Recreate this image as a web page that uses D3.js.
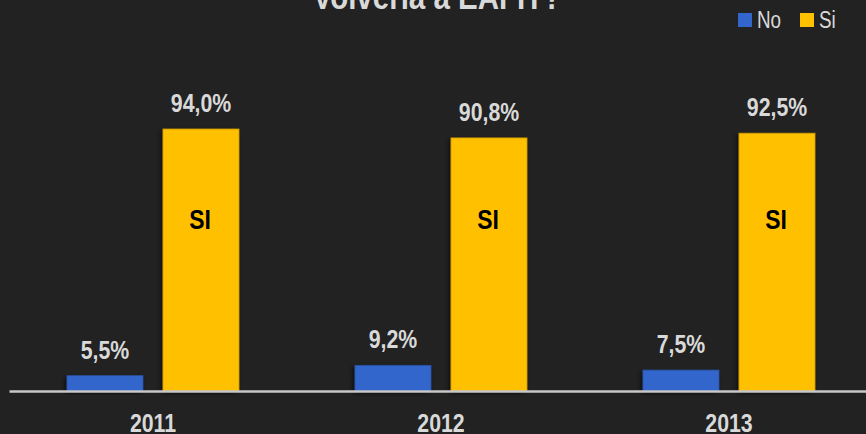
<!DOCTYPE html>
<html>
<head>
<meta charset="utf-8">
<script src="https://cdn.jsdelivr.net/npm/d3@7"></script>
<style>
  body { margin: 0; background: #222222; }
  svg { display: block; }
  text { font-family: "Liberation Sans", Arial, sans-serif; }
</style>
</head>
<body>
<script>
// chart data
const years = ["2011", "2012", "2013"];
const series = ["No", "Si"];
const noValues = [5.5, 9.2, 7.5];
const siValues = [94.0, 90.8, 92.5];
const labelNo = ["5,5%", "9,2%", "7,5%"];
const labelSi = ["94,0%", "90,8%", "92,5%"];
const colors = { No: "#3366cc", Si: "#ffc000" };

const width = 866, height = 434;
const baseY = 391;
const narrow = 0.82; // fake a narrow face by squeezing the text

const svg = d3.select("body")
    .append("svg")
    .attr("width", width)
    .attr("height", height);

svg.append("rect")
    .attr("width", width)
    .attr("height", height)
    .attr("fill", "#222222");

// soft shadow for the bars
const defs = svg.append("defs");
const filt = defs.append("filter").attr("id", "shadow")
    .attr("x", "-20%").attr("y", "-20%").attr("width", "140%").attr("height", "140%");
filt.append("feDropShadow")
    .attr("dx", -2).attr("dy", 2).attr("stdDeviation", 2)
    .attr("flood-color", "#000").attr("flood-opacity", 0.6);

// scales
const x0 = d3.scaleBand()
    .domain(years)
    .range([9, 873]);
const x1 = d3.scaleBand()
    .domain(series)
    .range([0, x0.bandwidth()])
    .paddingInner(0.2083)
    .paddingOuter(0.604);
const y = d3.scaleLinear()
    .domain([0, 100])
    .range([baseY, baseY - 278.7]);

const rows = years.map((yr, i) => ({
    year: yr,
    vals: [
        { key: "No", value: noValues[i], label: labelNo[i] },
        { key: "Si", value: siValues[i], label: labelSi[i] }
    ]
}));

// put a squeezed text at (x, y)
function narrowText(parent, x, yy) {
    return parent.append("g")
        .attr("transform", "translate(" + x + "," + yy + ") scale(" + narrow + ",1)")
        .append("text");
}

// title (partly cut off at the top)
narrowText(svg, 437, 9)
    .attr("text-anchor", "middle")
    .attr("font-size", "36px")
    .attr("font-weight", "bold")
    .attr("fill", "#d9d9d9")
    .text("Volvería a EAFIT?");

// legend
const legend = svg.append("g").attr("class", "legend");
const legendX = [738, 800];
series.forEach((s, i) => {
    legend.append("rect")
        .attr("x", legendX[i]).attr("y", 13)
        .attr("width", 14).attr("height", 14)
        .attr("fill", colors[s]);
    narrowText(legend, legendX[i] + 19, 28)
        .attr("font-size", "23px")
        .attr("fill", "#d9d9d9")
        .text(s);
});

const groups = svg.selectAll(".grp")
    .data(rows)
    .enter()
    .append("g")
    .attr("class", "grp")
    .attr("transform", d => "translate(" + x0(d.year) + ",0)");

groups.selectAll("rect")
    .data(d => d.vals)
    .enter()
    .append("rect")
    .attr("x", d => x1(d.key))
    .attr("y", d => y(d.value))
    .attr("width", x1.bandwidth())
    .attr("height", d => baseY - y(d.value))
    .attr("fill", d => colors[d.key])
    .attr("stroke", d => d3.color(colors[d.key]).darker(0.6))
    .attr("stroke-width", 0.8)
    .attr("filter", "url(#shadow)");

// value labels
groups.each(function (row) {
    const g = d3.select(this);
    row.vals.forEach(d => {
        narrowText(g, x1(d.key) + x1.bandwidth() / 2, y(d.value) - 17)
            .attr("text-anchor", "middle")
            .attr("font-size", "26px")
            .attr("font-weight", "bold")
            .attr("fill", "#d9d9d9")
            .text(d.label);
    });
    // "SI" inside the yellow bar
    narrowText(g, x1("Si") + x1.bandwidth() / 2 - 1, 229)
        .attr("text-anchor", "middle")
        .attr("font-size", "28px")
        .attr("font-weight", "bold")
        .attr("fill", "#000")
        .text("SI");
});

// x axis
const xAxis = d3.axisBottom(x0).tickSize(0).tickPadding(23);
const axisG = svg.append("g")
    .attr("transform", "translate(0," + baseY + ")")
    .call(xAxis);
axisG.select(".domain")
    .attr("stroke", "#c8c8c8")
    .attr("stroke-width", 2.5);
axisG.selectAll(".tick text")
    .attr("font-family", "'Liberation Sans', Arial, sans-serif")
    .attr("font-size", "26px")
    .attr("font-weight", "bold")
    .attr("fill", "#d9d9d9")
    .attr("transform", "scale(" + narrow + ",1)");
</script>
</body>
</html>
